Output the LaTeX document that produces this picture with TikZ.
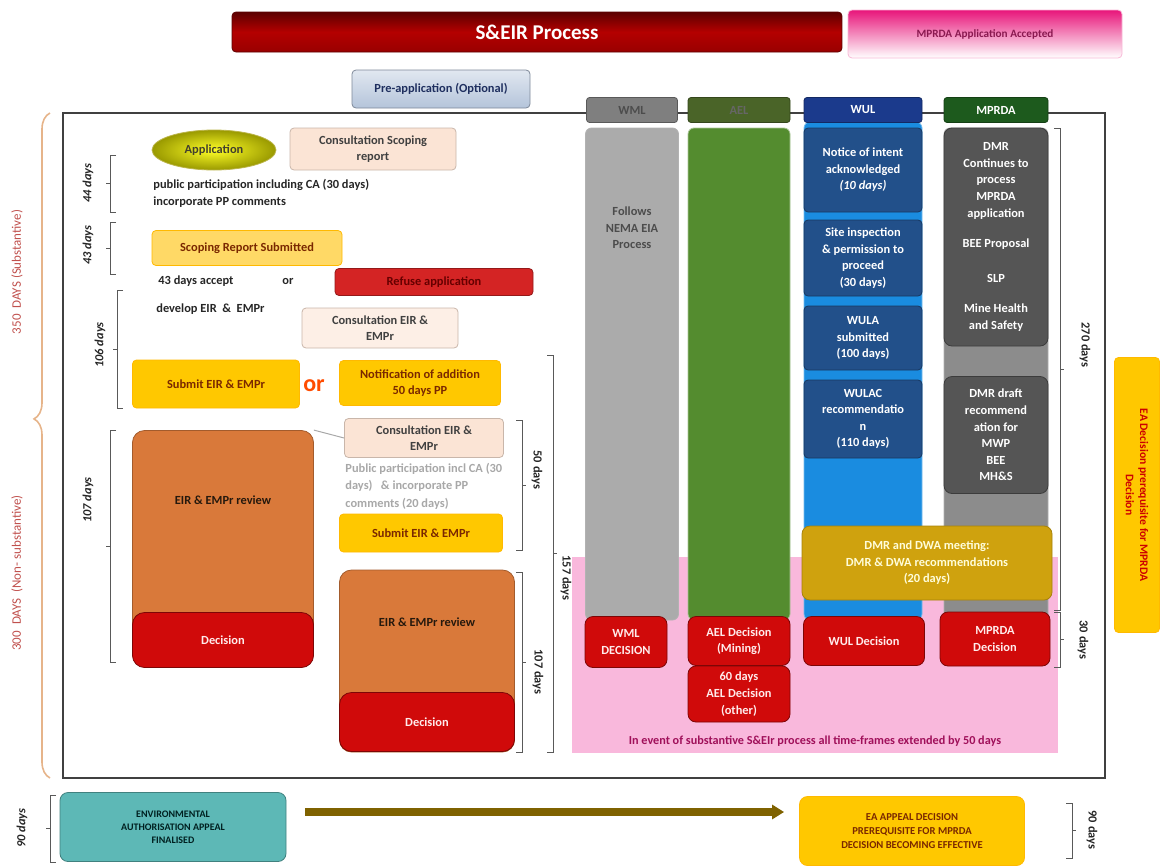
\documentclass[tikz,border=0pt]{standalone}
\usepackage{fontspec}
\setmainfont{Carlito}
\usetikzlibrary{calc,arrows.meta,decorations.pathreplacing,shapes.geometric}

\definecolor{titlered}{HTML}{B40000}
\definecolor{titledark}{HTML}{5C0000}
\definecolor{accpink}{HTML}{E8157A}
\definecolor{accpurple}{HTML}{8A1950}
\definecolor{prebl}{HTML}{B4C4DA}
\definecolor{navytxt}{HTML}{1F2F5F}
\definecolor{wmlgrey}{HTML}{7F7F7F}
\definecolor{wmlfill}{HTML}{ABABAB}
\definecolor{aelhead}{HTML}{4A6428}
\definecolor{aelfill}{HTML}{548C2F}
\definecolor{wulhead}{HTML}{1B3A8C}
\definecolor{wulfill}{HTML}{1A8CE0}
\definecolor{wulbox}{HTML}{22508A}
\definecolor{mprhead}{HTML}{1D5A1D}
\definecolor{mprfill}{HTML}{8C8C8C}
\definecolor{mprbox}{HTML}{555555}
\definecolor{decred}{HTML}{D00A0A}
\definecolor{meetgold}{HTML}{CFA20E}
\definecolor{pinkzone}{HTML}{F9B8DC}
\definecolor{pinktxt}{HTML}{A0105A}
\definecolor{revorange}{HTML}{D9793A}
\definecolor{gold}{HTML}{FFC800}
\definecolor{paleyellow}{HTML}{FFD966}
\definecolor{peach}{HTML}{FBE4D5}
\definecolor{brownred}{HTML}{7A2800}
\definecolor{refusered}{HTML}{D42424}
\definecolor{tealbox}{HTML}{5DB8B6}
\definecolor{olivearrow}{HTML}{7F6200}
\definecolor{bracegold}{HTML}{E6B48A}
\definecolor{daysred}{HTML}{C0504D}
\definecolor{greytxt}{HTML}{A8A8A8}
\definecolor{framegrey}{HTML}{404040}

\begin{document}
\begin{tikzpicture}[x=0.5pt,y=-0.5pt,
  wh/.style 2 args={minimum width=#1*0.5pt,minimum height=#2*0.5pt},
  box/.style={rounded corners=2pt,align=center,inner sep=1pt,font=\fontsize{6.2}{8.3}\selectfont\bfseries},
  head/.style={box,rounded corners=1.5pt,wh={#1}{25}},
  colbar/.style={rounded corners=3pt,inner sep=0pt},
  wulstep/.style={box,fill=wulbox,draw=wulbox!70!black,text=white,wh={118}{#1}},
  mprstep/.style={box,fill=mprbox,draw=mprbox!70!black,text=white,rounded corners=4pt,wh={104}{#1}},
  decbox/.style={box,fill=decred,draw=decred!60!black,text=white!92!red,rounded corners=4pt},
  goldbox/.style={box,fill=gold,draw=gold!80!orange,text=brownred},
  consbox/.style={box,fill=peach,draw=peach!80!black,text=black!75},
  revbox/.style={rounded corners=6pt,fill=revorange,draw=revorange!75!black},
  plaintxt/.style={align=left,inner sep=0pt,font=\fontsize{6.2}{8.6}\selectfont\bfseries,text=black!85},
  daylbl/.style={inner sep=0pt,font=\fontsize{6.2}{7}\selectfont\bfseries,text=black!85},
  brk/.style={black!65,line width=0.45pt}]
\useasboundingbox (0,0) rectangle (1161,867);

% top banners
\node[box,wh={610}{40},top color=titledark,bottom color=titlered!85!black,middle color=titlered,draw=titledark,text=white,font=\fontsize{10.5}{12}\selectfont\bfseries] (title) at (537,32) {S\&EIR Process};
\node[box,wh={274}{48},top color=accpink,bottom color=white,draw=accpink!30,text=accpurple,font=\fontsize{5.6}{7}\selectfont\bfseries] (mprdaacc) at (985,34) {MPRDA Application Accepted};
\node[box,wh={178}{38},top color=prebl!40,bottom color=prebl,draw=prebl!70!black,text=navytxt] (preapp) at (441,89) {Pre-application (Optional)};

% frame and pink zone
\draw[framegrey,line width=0.6pt] (63,113) rectangle (1105,778);
\fill[pinkzone] (572,557) rectangle (1058,753);
\node[font=\fontsize{6.1}{7}\selectfont\bfseries,text=pinktxt,inner sep=0pt] (pinknote) at (815,741) {In event of substantive S\&EIr process all time-frames extended by 50 days};

% columns
\node[colbar,fill=wmlfill,draw=white!70!black,wh={93}{492}] (colwml) at (632,374) {};
\node[box,text=black!70] (wmltxt) at (632,228) {Follows\\NEMA EIA\\Process};
\node[colbar,fill=aelfill,draw=aelfill!50!white,wh={102}{492}] (colael) at (739,374) {};
\node[colbar,fill=wulfill,draw=wulfill!60!white,wh={118}{498}] (colwul) at (863,371) {};
\node[colbar,fill=mprfill,draw=mprfill!70!white,wh={104}{492}] (colmpr) at (996,374) {};

\node[head=91,fill=wmlgrey,draw=wmlgrey!70!black,text=black!70] (hwml) at (632,110) {WML};
\node[head=102,fill=aelhead,draw=aelhead!70!black,text=black!60] (hael) at (739,110) {AEL};
\node[head=118,fill=wulhead,draw=wulhead!70!black,text=white] (hwul) at (863,110) {WUL};
\node[head=104,fill=mprhead,draw=mprhead!70!black,text=white] (hmpr) at (996,110) {MPRDA};

\node[wulstep=84] (wul1) at (863,170) {Notice of intent\\acknowledged\\\textit{(10 days)}};
\node[wulstep=76] (wul2) at (863,258) {Site inspection\\\& permission to\\proceed\\(30 days)};
\node[wulstep=64] (wul3) at (863,338) {WULA\\submitted\\(100 days)};
\node[wulstep=78] (wul4) at (863,419) {WULAC\\recommendatio\\n\\(110 days)};

\node[mprstep=218] (mpr1) at (996,237) {DMR\\Continues to\\process\\MPRDA\\application\\[7pt]BEE Proposal\\[9pt]SLP\\[7pt]Mine Health\\and Safety};
\node[mprstep=117] (mpr2) at (996,435) {DMR draft\\recommend\\ation for\\MWP\\BEE\\MH\&S};

\node[box,wh={250}{74},fill=meetgold,draw=meetgold!80!black,text=white!85!yellow,rounded corners=4pt] (meet) at (927,563) {DMR and DWA meeting:\\DMR \& DWA recommendations\\(20 days)};

\node[decbox,wh={82}{51}] (decwml) at (626,642) {WML\\DECISION};
\node[decbox,wh={102}{49}] (decael) at (739,641) {AEL Decision\\(Mining)};
\node[decbox,wh={102}{56}] (decaelo) at (739,694) {60 days\\AEL Decision\\(other)};
\node[decbox,wh={121}{49}] (decwul) at (864,641) {WUL Decision};
\node[decbox,wh={110}{54}] (decmpr) at (995,639) {MPRDA\\Decision};

\node[box,rotate=-90,wh={275}{45},fill=gold,draw=gold!80!orange,text=red!80!black,font=\fontsize{5.8}{7.2}\selectfont\bfseries] (eaprereq) at (1137,495) {EA Decision prerequisite for MPRDA\\Decision};

% left side process
\node[ellipse,wh={124}{40},inner sep=0pt,inner color=yellow!85!white,outer color=olive!80!yellow,draw=olive!60,font=\fontsize{6.2}{7}\selectfont\bfseries,text=black!70!olive] (appl) at (214,150) {Application};
\node[consbox,wh={166}{42}] (consscope) at (373,149) {Consultation Scoping\\report};
\node[plaintxt,anchor=north west] (pptxt) at (153,179) {public participation including CA (30 days)\\incorporate PP comments};
\node[goldbox,wh={190}{35},fill=paleyellow] (scopesub) at (247,248) {Scoping Report Submitted};
\node[plaintxt,anchor=west] (accepttxt) at (158,281) {43 days accept};
\node[plaintxt,anchor=west] (ortxt) at (282,281) {or};
\node[box,wh={198}{27},fill=refusered,draw=refusered!70!black,text=red!40!black] (refuse) at (434,282) {Refuse application};
\node[plaintxt,anchor=west] (develop) at (156,309) {develop EIR\ \ \&\ \ EMPr};
\node[consbox,wh={156}{40},fill=peach!60!white] (conseir) at (380,328) {Consultation EIR \&\\EMPr};
\node[goldbox,wh={167}{48}] (submit) at (216,384) {Submit EIR \& EMPr};
\node[font=\fontsize{12}{12}\selectfont\bfseries,text=orange!60!red,inner sep=0pt] (bigor) at (314,386) {or};
\node[goldbox,wh={161}{45}] (notify) at (420,383) {Notification of addition\\50 days PP};

\node[revbox,wh={181}{235}] (rev) at (223,548) {};
\node[decbox,wh={181}{55},rounded corners=6pt] (revdec) at (223,640) {Decision};
\node[box,text=black!80!brown] (revtxt) at (223,500) {EIR \& EMPr review};

\node[consbox,wh={159}{39}] (conseirb) at (424,438) {Consultation EIR \&\\EMPr};
\draw[greytxt,line width=0.5pt] (rev.north east) -- (conseirb.west);
\node[plaintxt,anchor=north west,text=greytxt] (pptxtb) at (345,463) {Public participation incl CA (30\\days)\ \ \ \& incorporate PP\\comments (20 days)};
\node[goldbox,wh={163}{38}] (submitb) at (421,533) {Submit EIR \& EMPr};
\node[revbox,wh={175}{182}] (revb) at (427,661) {};
\node[decbox,wh={175}{59},rounded corners=6pt] (revdecb) at (427,722) {Decision};
\node[box,text=black!80!brown] (revtxtb) at (427,622) {EIR \& EMPr review};

% big brace and its labels
\draw[bracegold,line width=0.8pt,decorate,decoration={brace,amplitude=8pt,aspect=0.54}] (50,778) -- (50,113);
\node[rotate=90,font=\fontsize{6.5}{7}\selectfont,text=daysred] (subst) at (17,272) {350\ \ DAYS (Substantive)};
\node[rotate=90,font=\fontsize{6.5}{7}\selectfont,text=daysred] (nonsubst) at (17,573) {300\ \ DAYS\ \ (Non- substantive)};

% day brackets, left and right
\foreach \bx/\ya/\yb/\lx/\ly/\txt [count=\i] in {110/155/212/88/183/44 days,110/222/274/88/245/43 days,117/290/408/100/345/106 days,110/430/662/88/500/107 days,50/795/862/22/828/90 days}{
  \draw[brk] (\bx+6,\ya) -- (\bx,\ya) -- (\bx,\yb) -- (\bx+6,\yb) (\bx,{(\ya+\yb)/2}) -- (\bx-4,{(\ya+\yb)/2});
  \node[daylbl,rotate=90,font=\fontsize{6.2}{7}\selectfont\bfseries\itshape] (lday\i) at (\lx,\ly) {\txt};
}
\foreach \bx/\ya/\yb/\lx/\ly/\txt [count=\i] in {522/420/550/537/470/50 days,553/355/752/566/578/157 days,522/572/752/538/672/107 days,1060/128/610/1085/345/270 days,1060/612/667/1083/640/30 days,1072/803/858/1092/830/90 days}{
  \draw[brk] (\bx-6,\ya) -- (\bx,\ya) -- (\bx,\yb) -- (\bx-6,\yb) (\bx,{(\ya+\yb)/2}) -- (\bx+4,{(\ya+\yb)/2});
  \node[daylbl,rotate=-90] (rday\i) at (\lx,\ly) {\txt};
}

% appeal row
\node[box,wh={226}{69},fill=tealbox,draw=tealbox!70!black,rounded corners=4pt,text=black!75!teal,font=\fontsize{5}{6.6}\selectfont\bfseries] (appeal) at (173,827) {ENVIRONMENTAL\\AUTHORISATION APPEAL\\FINALISED};
\node[box,wh={225}{69},fill=gold,draw=gold!80!orange,rounded corners=4pt,text=brownred,font=\fontsize{5.3}{7}\selectfont\bfseries] (eadec) at (912,831) {EA APPEAL DECISION\\PREREQUISITE FOR MPRDA\\DECISION BECOMING EFFECTIVE};
\draw[olivearrow,line width=4pt,-{Triangle[length=6pt,width=7pt]}] ($(appeal.east)+(19,-15)$) -- ($(eadec.west)+(-15,-19)$);
\end{tikzpicture}
\end{document}
